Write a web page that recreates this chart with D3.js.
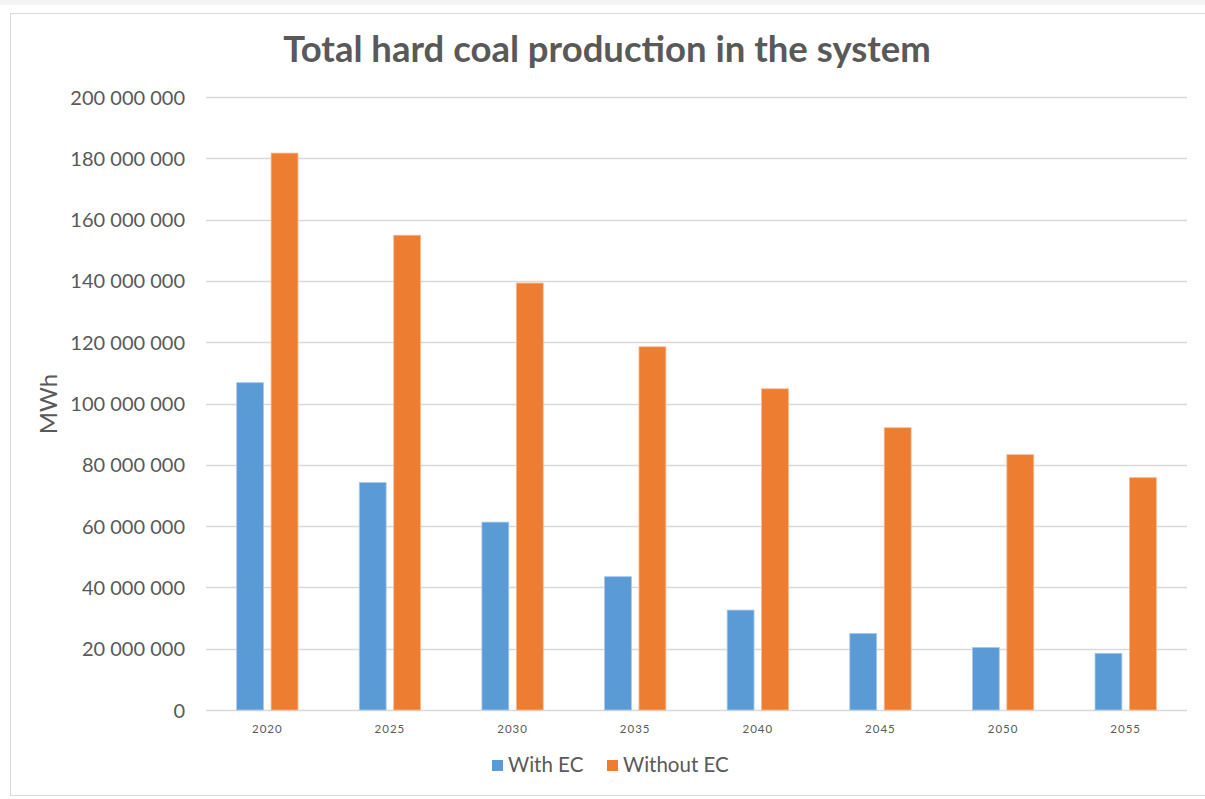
<!DOCTYPE html>
<html>
<head>
<meta charset="utf-8">
<script src="https://cdn.jsdelivr.net/npm/d3@7"></script>
<style>
  html, body { margin: 0; padding: 0; background: #fff; }
  svg { display: block; }
  text { font-family: Lato, "Open Sans", sans-serif; fill: #595959; }
</style>
</head>
<body>
<svg id="chart" width="1205" height="799"></svg>
<script>
// Years and yearly hard coal production (MWh) for both scenarios
const years = ["2020", "2025", "2030", "2035", "2040", "2045", "2050", "2055"];
const withEC = [106800000, 74200000, 61300000, 43500000, 32600000, 25000000, 20400000, 18500000];
const withoutEC = [181700000, 154900000, 139300000, 118500000, 104800000, 92100000, 83300000, 75800000];
const seriesNames = ["With EC", "Without EC"];
const seriesColors = ["#5B9BD5", "#ED7D31"];
const yTicks = [0, 20000000, 40000000, 60000000, 80000000, 100000000, 120000000, 140000000, 160000000, 180000000, 200000000];

const svg = d3.select("#chart");
const W = 1205, H = 799;

// page strip and chart frame
svg.append("rect").attr("x", 0).attr("y", 0).attr("width", W).attr("height", 5).attr("fill", "#f4f4f4");
svg.append("rect").attr("x", 10.5).attr("y", 13.5).attr("width", W).attr("height", 782)
  .attr("fill", "#fff").attr("stroke", "#d9d9d9").attr("stroke-width", 1);

const plot = { left: 206, right: 1187, top: 97, bottom: 710 };

const x = d3.scaleBand().domain(years).range([plot.left, plot.right])
  .paddingInner(0.5).paddingOuter(0.25);
const xs = d3.scaleBand().domain(seriesNames).range([0, x.bandwidth()])
  .paddingInner(0.22).paddingOuter(0);
const y = d3.scaleLinear().domain([0, 200000000]).range([plot.bottom, plot.top]);

const locale = d3.formatLocale({ decimal: ",", thousands: "\u00a0", grouping: [3], currency: ["", ""] });
const fmt = locale.format(",d");

// horizontal gridlines
svg.append("g").selectAll("line").data(yTicks).join("line")
  .attr("x1", plot.left).attr("x2", plot.right)
  .attr("y1", d => Math.round(y(d)) + 0.5).attr("y2", d => Math.round(y(d)) + 0.5)
  .attr("stroke", "#d9d9d9").attr("stroke-width", 1.5);

// y axis labels
const yAxis = d3.axisLeft(y).tickValues(yTicks).tickFormat(fmt).tickSize(0).tickPadding(0);
const gy = svg.append("g").attr("transform", `translate(${plot.left - 21},0)`).call(yAxis);
gy.select(".domain").remove();
gy.selectAll("text").attr("font-size", 20).attr("fill", "#595959")
  .style("font-family", "Lato, sans-serif").attr("dy", "0.35em");

// bars
const rows = years.map((yr, i) => ({ year: yr, values: [withEC[i], withoutEC[i]] }));
const groups = svg.append("g").selectAll("g").data(rows).join("g")
  .attr("transform", d => `translate(${x(d.year)},0)`);
groups.selectAll("rect").data(d => d.values.map((v, k) => ({ v, k }))).join("rect")
  .attr("x", d => xs(seriesNames[d.k]))
  .attr("width", xs.bandwidth())
  .attr("y", d => y(d.v))
  .attr("height", d => y(0) - y(d.v))
  .attr("fill", d => seriesColors[d.k])
  .attr("stroke", d => d.k === 0 ? "#a9c8ec" : "#f6b98f")
  .attr("stroke-width", 0.8);

// x axis labels
const xAxis = d3.axisBottom(x).tickSize(0).tickPadding(0);
const gx = svg.append("g").attr("transform", `translate(0,${plot.bottom + 19})`).call(xAxis);
gx.select(".domain").remove();
gx.selectAll("text").attr("font-size", 11.5).attr("fill", "#595959")
  .style("font-family", "Lato, sans-serif").style("letter-spacing", "1px").attr("dy", "0.35em");

// title
svg.append("text").attr("x", 607).attr("y", 62).attr("text-anchor", "middle")
  .attr("font-size", 36.5).attr("font-weight", "bold").attr("fill", "#595959")
  .text("Total hard coal production in the system");

// y axis title
svg.append("text").attr("transform", "translate(57,404) rotate(-90)")
  .attr("text-anchor", "middle").attr("font-size", 24).attr("fill", "#595959").text("MWh");

// legend
const legendItems = [{ name: seriesNames[0], color: seriesColors[0], x: 492 },
                     { name: seriesNames[1], color: seriesColors[1], x: 607 }];
const lg = svg.append("g").selectAll("g").data(legendItems).join("g")
  .attr("transform", d => `translate(${d.x},760)`);
lg.append("rect").attr("width", 11).attr("height", 11).attr("fill", d => d.color);
lg.append("text").attr("x", 16).attr("y", 12).attr("font-size", 20.5).attr("fill", "#595959").text(d => d.name);
</script>
</body>
</html>
